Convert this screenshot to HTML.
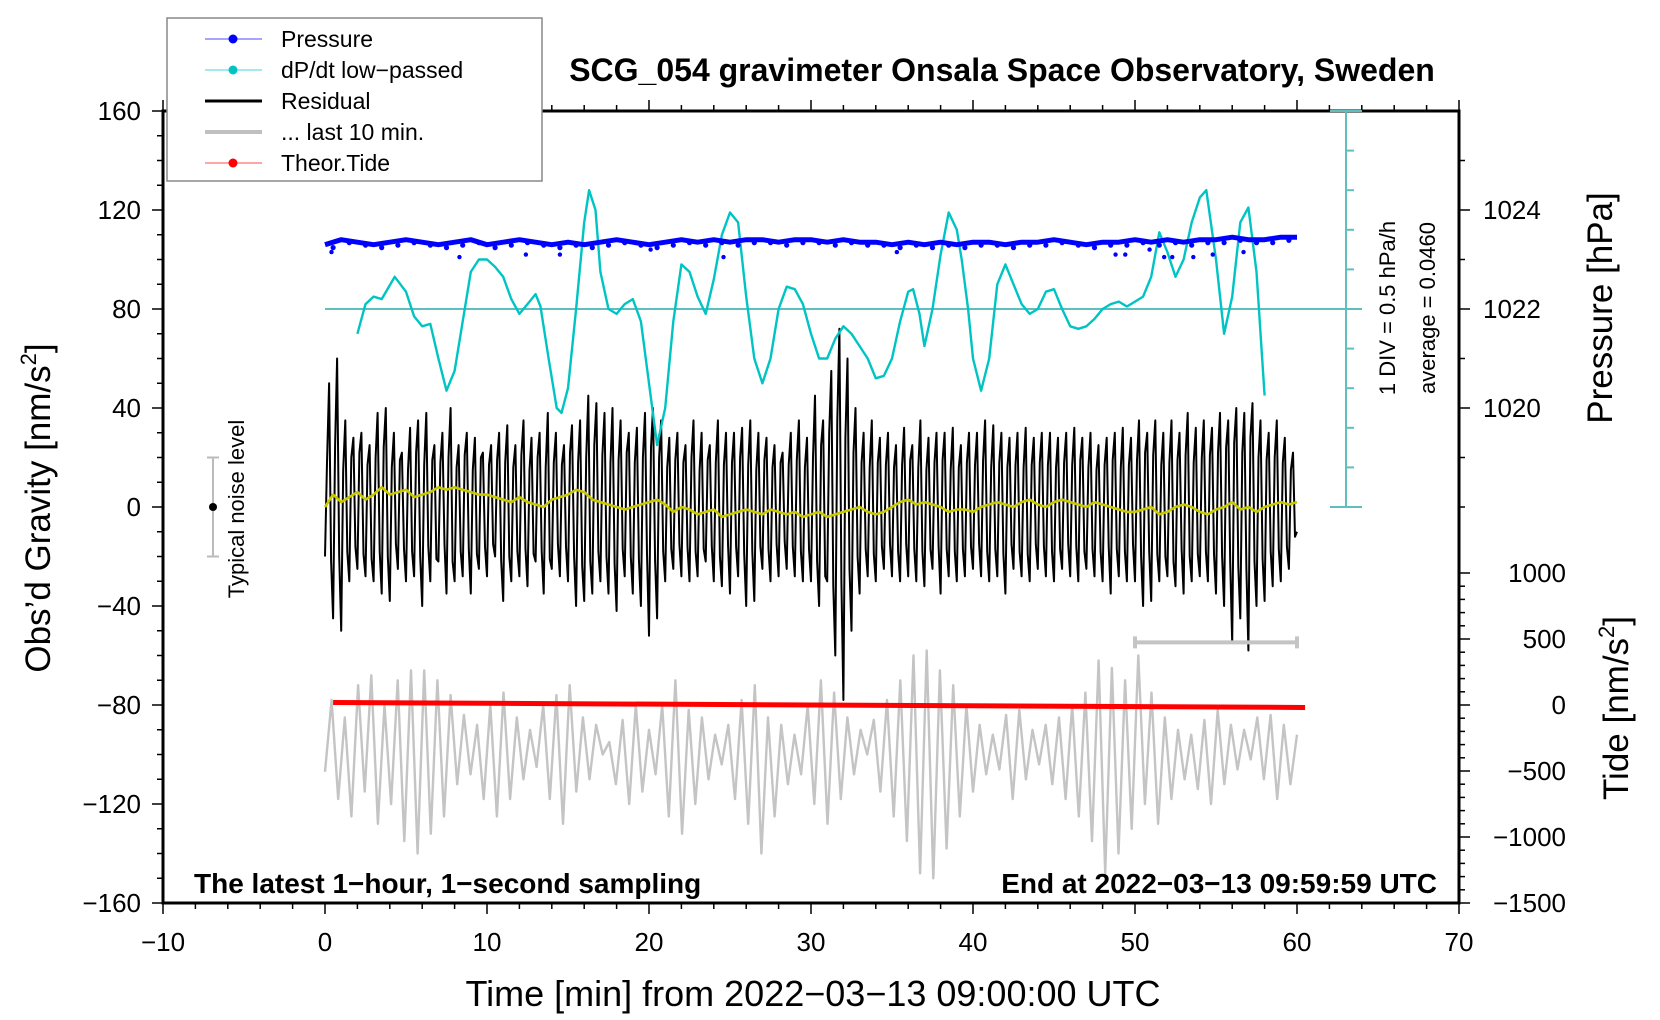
<!DOCTYPE html>
<html><head><meta charset="utf-8"><style>
html,body{margin:0;padding:0;background:#fff}
svg{display:block;font-family:"Liberation Sans",Arial,sans-serif}
</style></head><body>
<svg id="chart" width="1660" height="1020" viewBox="0 0 1660 1020">
<g id="axes"></g>
<g id="marks"></g>
<g id="labels"></g>
</svg>
<script>
// ---- data ----
const xTicks = [-10,0,10,20,30,40,50,60,70];
const yTicks = [160,120,80,40,0,-40,-80,-120,-160];
const pressureTicks = [1020,1022,1024];
const tideTicks = [1000,500,0,-500,-1000,-1500];
const residualValues = [
-20,50,-45,60,-50,35,-30,28,-25,30,-28,25,-30,38,-35,40,-38,30,-25,22,
-30,32,-28,35,-40,38,-30,25,-22,30,-35,40,-30,25,-28,30,-35,28,-25,22,
-28,25,-20,30,-38,33,-30,25,-28,35,-32,28,-22,30,-35,38,-25,30,-28,25,
-30,33,-40,35,-38,45,-35,42,-30,38,-35,40,-42,35,-28,30,-35,32,-40,38,
-52,40,-45,35,-30,28,-25,30,-28,25,-30,35,-28,30,-22,25,-30,35,-32,30,
-35,30,-28,32,-40,35,-38,30,-25,28,-30,25,-28,22,-25,30,-28,35,-30,28,
-30,45,-40,35,-30,55,-60,72,-78,60,-50,40,-35,30,-28,35,-30,28,-25,30,
-28,25,-30,32,-28,25,-30,35,-32,28,-25,30,-35,30,-28,32,-30,25,-28,30,
-25,30,-28,35,-30,33,-28,30,-35,28,-25,30,-28,32,-30,28,-25,30,-28,30,
-30,28,-25,30,-28,32,-30,28,-25,30,-28,25,-30,28,-35,30,-28,32,-30,28,
-30,35,-40,30,-38,35,-30,30,-28,35,-32,30,-35,38,-30,32,-28,35,-30,32,
-35,38,-40,35,-55,40,-45,38,-58,42,-40,35,-38,30,-32,35,-30,28,-25,22,-10];
const residualInner = [
18,-22,25,-20,15,-18,20,-16,22,-19,17,-21,20,-18,24,-20,16,-15,19,-17,
15,-18,22,-20,17,-16,19,-21,18,-15,20,-22,16,-18,21,-17,15,-19,20,-16,
17,-15,19,-22,18,-20,16,-18,21,-17,15,-19,20,-18,16,-21,18,-15,17,-16,
22,-20,18,-24,20,-22,25,-18,21,-20,18,-23,19,-17,22,-20,18,-21,20,-19,
24,-22,20,-18,16,-17,19,-15,18,-16,20,-18,15,-17,19,-16,18,-20,17,-15,
18,-16,20,-19,17,-18,15,-16,19,-17,16,-15,18,-14,17,-16,19,-18,16,-17,
20,-22,25,-28,30,-32,35,-30,28,-25,22,-20,18,-17,16,-19,18,-16,17,-15,
16,-18,17,-15,19,-17,16,-18,15,-17,18,-16,19,-17,15,-18,16,-17,18,-16,
17,-15,19,-18,16,-17,18,-19,16,-15,17,-18,16,-19,17,-15,18,-16,17,-18,
16,-17,18,-15,17,-16,19,-18,16,-17,15,-18,17,-16,19,-17,16,-18,17,-15,
19,-20,22,-18,21,-19,17,-20,18,-22,19,-17,21,-20,18,-19,20,-18,21,-19,
22,-20,24,-22,26,-24,22,-25,28,-22,20,-21,19,-18,20,-17,18,-16,15,-12];
const smoothValues = [
0,5,2,4,6,3,5,8,5,6,7,4,5,6,8,7,8,7,6,5,
5,4,3,2,4,2,1,0,3,4,5,7,6,3,2,1,0,-1,0,1,
2,3,1,-2,0,-1,-3,-2,-1,-4,-3,-2,-1,-2,-3,-1,-2,-3,-2,-4,
-3,-2,-4,-3,-2,-1,0,-2,-3,-2,0,2,3,1,2,1,0,-2,-1,-1,
-2,0,1,2,1,0,2,3,1,0,2,3,2,1,0,2,1,0,-1,-2,
-2,-1,0,-3,-2,0,1,0,-2,-3,-1,0,2,-1,0,-2,0,1,2,1,2];
const lastTenValues = [-107,-78,-118,-85,-125,-72,-115,-68,-128,-80,-120,-70,-135,-66,-140,-66,-132,-70,-125,-76,-112,-84,-108,-88,-118,-80,-125,-75,-118,-85,-110,-90,-105,-80,-118,-76,-128,-72,-115,-85,-110,-88,-100,-95,-112,-86,-120,-80,-115,-90,-108,-80,-125,-70,-132,-82,-120,-85,-110,-92,-104,-88,-118,-78,-128,-72,-140,-85,-125,-88,-112,-92,-108,-80,-120,-70,-128,-75,-118,-85,-108,-90,-100,-86,-115,-78,-125,-70,-135,-60,-148,-58,-150,-66,-138,-72,-125,-80,-115,-88,-108,-92,-106,-84,-118,-82,-110,-90,-104,-88,-112,-85,-118,-80,-125,-75,-135,-62,-148,-65,-140,-70,-130,-60,-120,-75,-128,-85,-118,-90,-110,-92,-114,-86,-120,-82,-112,-88,-106,-90,-102,-85,-110,-84,-118,-88,-112,-92];
const dpdtTimes = [2,2.5,3,3.5,4.3,5,5.5,6,6.5,7,7.5,8,8.5,9,9.5,10,10.5,11,11.5,12,12.5,13,13.3,13.8,14.3,14.6,15,15.5,16,16.3,16.7,17,17.5,18,18.5,19,19.5,20,20.5,21,21.5,22,22.5,23,23.5,24,24.5,25,25.5,26,26.5,27,27.5,28,28.5,29,29.5,30,30.5,31,31.5,32,32.5,33,33.5,34,34.5,35,35.5,36,36.3,36.7,37,37.5,38,38.5,39,39.3,39.7,40,40.5,41,41.5,42,42.5,43,43.5,44,44.5,45,45.5,46,46.5,47,47.5,48,48.5,49,49.5,50,50.5,51,51.5,52,52.5,53,53.5,54,54.4,55,55.5,56,56.5,57,57.5,58];
const dpdtValues = [70,82,85,84,93,87,77,73,74,60,47,55,75,95,100,100,97,93,84,78,82,86,81,60,40,38,48,80,115,128,120,95,80,78,82,84,75,50,25,40,75,98,95,85,78,92,110,119,115,85,60,50,60,80,89,88,82,70,60,60,68,73,70,65,60,52,53,60,75,87,88,78,65,80,102,119,112,100,80,60,47,60,90,98,90,82,78,80,87,88,80,73,72,73,76,80,82,83,81,83,85,93,111,103,93,100,115,125,128,100,70,85,115,121,95,45];
const pressureValues = [1023.3,1023.4,1023.35,1023.3,1023.35,1023.4,1023.35,1023.3,1023.35,1023.4,1023.3,1023.35,1023.4,1023.35,1023.3,1023.35,1023.3,1023.35,1023.4,1023.35,1023.3,1023.35,1023.4,1023.35,1023.4,1023.35,1023.4,1023.4,1023.35,1023.4,1023.4,1023.35,1023.4,1023.35,1023.35,1023.3,1023.35,1023.3,1023.35,1023.3,1023.35,1023.35,1023.3,1023.35,1023.35,1023.4,1023.35,1023.3,1023.35,1023.35,1023.4,1023.35,1023.4,1023.35,1023.4,1023.4,1023.45,1023.4,1023.4,1023.45,1023.45];
const pressureOutlierTimes = [0.4,8.3,12.4,14.5,20.1,24.6,35.3,48.8,49.4,50.9,51.8,52.3,53.6,54.8,56.7];
const pressureOutlierValues = [1023.15,1023.05,1023.1,1023.1,1023.2,1023.05,1023.15,1023.1,1023.1,1023.2,1023.05,1023.05,1023.05,1023.1,1023.15];
const tideStart = -79, tideEnd = -81;
const noiseLevel = 20;

// ---- scales ----
const L=163,R=1459,T=111,B=903;
const X=t=>L+(t+10)*(R-L)/80;
const Y=g=>T+(160-g)*(B-T)/320;
const P=p=>Y(80+(p-1022)*20);
const TD=v=>Y(-80+v*80/1500);
const NS='http://www.w3.org/2000/svg';
function mk(parent,tag,attrs,text){const e=document.createElementNS(NS,tag);for(const k in attrs)e.setAttribute(k,attrs[k]);if(text!==undefined)e.textContent=text;document.getElementById(parent).appendChild(e);return e;}

// ---- axes ----
let e;
e=mk('axes','rect',{x:L,y:T,width:R-L,height:B-T,fill:'none',stroke:'#000','stroke-width':3});


for(let t=-10;t<=70;t+=2){const maj=t%10===0;
 e=mk('axes','line',{x1:X(t),x2:X(t),y1:B,y2:B+(maj?11:6),stroke:'#000','stroke-width':1.5});
 
 
 e=mk('axes','line',{x1:X(t),x2:X(t),y1:T,y2:T-(maj?11:6),stroke:'#000','stroke-width':1.5});
 
 }
xTicks.forEach(t=>{e=mk('labels','text',{x:X(t),y:951,'font-size':26,'text-anchor':'middle'},String(t).replace('-','\u2212'));
 
 });
for(let g=-160;g<=160;g+=10){const maj=g%40===0;
 e=mk('axes','line',{x1:L,x2:L-(maj?11:6),y1:Y(g),y2:Y(g),stroke:'#000','stroke-width':1.5});
 
 }
yTicks.forEach(g=>{e=mk('labels','text',{x:141,y:Y(g)+9,'font-size':26,'text-anchor':'end'},String(g).replace('-','\u2212'));
 
 });
for(let p=1018;p<=1025;p+=1){const maj=p%2===0&&p>=1020;
 e=mk('axes','line',{x1:R,x2:R+(maj?11:6),y1:P(p),y2:P(p),stroke:'#000','stroke-width':1.5});
 
 }
pressureTicks.forEach(p=>{e=mk('labels','text',{x:1483,y:P(p)+9,'font-size':26},String(p));
 
 });
for(let v=-1500;v<=1000;v+=100){const maj=v%500===0;
 e=mk('axes','line',{x1:R,x2:R+(maj?11:6),y1:TD(v),y2:TD(v),stroke:'#000','stroke-width':1.5});
 
 }
tideTicks.forEach(v=>{e=mk('labels','text',{x:1566,y:TD(v)+9,'font-size':26,'text-anchor':'end'},String(v).replace('-','\u2212'));
 
 });
const cx=1346;
e=mk('axes','line',{x1:cx,x2:cx,y1:Y(160),y2:Y(0),stroke:'#5fbfbf','stroke-width':2});


for(let g=0;g<=160;g+=16){const full=(g===0||g===160);
 e=mk('axes','line',{x1:full?cx-16:cx,x2:cx+(full?16:8),y1:Y(g),y2:Y(g),stroke:'#5fbfbf','stroke-width':2});
 
 }
e=mk('axes','line',{x1:X(0),x2:1362,y1:Y(80),y2:Y(80),stroke:'#5fbfbf','stroke-width':2});



// ---- marks ----
function pl(pts,stroke,w){e=mk('marks','polyline',{points:pts.map(p=>p[0].toFixed(1)+','+p[1].toFixed(1)).join(' '),fill:'none',stroke:stroke,'stroke-width':w,'stroke-linejoin':'round'});return e;}
e=pl(lastTenValues.map((v,i)=>[X(i*60/(lastTenValues.length-1)),Y(v)]),'#c4c4c4',2.4);


const resPts=[];
residualValues.forEach((v,i)=>{resPts.push([X(i*0.25),Y(v)]);if(i<residualInner.length)resPts.push([X(i*0.25+0.125),Y(residualInner[i])]);});
e=pl(resPts,'#000',2);


e=pl(smoothValues.map((v,i)=>[X(i*0.5),Y(v)]),'#c8c800',2.6);


e=pl(dpdtValues.map((v,i)=>[X(dpdtTimes[i]),Y(v)]),'#00c4c4',2.4);


e=pl(pressureValues.map((v,i)=>[X(i),P(v)]),'#0000ff',5);


pressureValues.forEach((v,i)=>{if(i<60){e=mk('marks','circle',{cx:X(i+0.5),cy:P(v)+3,r:2.6,fill:'#0000ff'});
 
 }});
pressureOutlierTimes.forEach((t,i)=>{e=mk('marks','circle',{cx:X(t),cy:P(pressureOutlierValues[i]),r:2.2,fill:'#0000ff'});
 
 });
e=mk('marks','line',{x1:X(0.5),x2:X(60.5),y1:Y(tideStart),y2:Y(tideEnd),stroke:'#ff0000','stroke-width':5});


const gy=Y(-54.7);
e=mk('marks','path',{d:`M${X(50)},${gy}H${X(60)}M${X(50)},${gy-6}V${gy+6}M${X(60)},${gy-6}V${gy+6}`,stroke:'#c4c4c4','stroke-width':4,fill:'none'});


const nx=213;
e=mk('marks','path',{d:`M${nx},${Y(noiseLevel)}V${Y(-noiseLevel)}M${nx-6},${Y(noiseLevel)}H${nx+6}M${nx-6},${Y(-noiseLevel)}H${nx+6}`,stroke:'#bbb','stroke-width':2,fill:'none'});


e=mk('marks','circle',{cx:nx,cy:Y(0),r:4,fill:'#000'});



// ---- labels ----
function tx(x,y,s,attrs){const a=Object.assign({x:x,y:y},attrs);e=mk('labels','text',a,s);return e;}
e=tx(1002,81,'SCG_054 gravimeter Onsala Space Observatory, Sweden',{'font-size':32,'font-weight':'bold','text-anchor':'middle'});


e=tx(813,1006,'Time [min] from 2022\u221203\u221213 09:00:00 UTC',{'font-size':36,'text-anchor':'middle'});


e=mk('labels','text',{x:0,y:0,'font-size':35,'text-anchor':'middle',transform:'translate(50,508) rotate(-90)'});
e.innerHTML='Obs\u2019d Gravity [nm/s<tspan font-size="22" dy="-14">2</tspan><tspan dy="14">]</tspan>';


e=mk('labels','text',{x:0,y:0,'font-size':35,'text-anchor':'middle',transform:'translate(1612,308) rotate(-90)'},'Pressure [hPa]');


e=mk('labels','text',{x:0,y:0,'font-size':35,'text-anchor':'middle',transform:'translate(1628,708) rotate(-90)'});
e.innerHTML='Tide [nm/s<tspan font-size="22" dy="-14">2</tspan><tspan dy="14">]</tspan>';


e=mk('labels','text',{x:0,y:0,'font-size':22,'text-anchor':'middle',transform:'translate(1395,308) rotate(-90)'},'1 DIV = 0.5 hPa/h');


e=mk('labels','text',{x:0,y:0,'font-size':22,'text-anchor':'middle',transform:'translate(1435,308) rotate(-90)'},'average = 0.0460');


e=mk('labels','text',{x:0,y:0,'font-size':22,'text-anchor':'middle',transform:'translate(244,509) rotate(-90)'},'Typical noise level');


e=tx(194,893,'The latest 1\u2212hour, 1\u2212second sampling',{'font-size':28,'font-weight':'bold'});


e=tx(1437,893,'End at 2022\u221203\u221213 09:59:59 UTC',{'font-size':28,'font-weight':'bold','text-anchor':'end'});



e=mk('labels','rect',{x:167,y:18,width:375,height:163,fill:'#fff',stroke:'#888','stroke-width':1.5});


const legendNames=['Pressure','dP/dt low\u2212passed','Residual','... last 10 min.','Theor.Tide'];
const legendColors=['#0000ff','#00c4c4','#000','#c0c0c0','#ff0000'];
legendNames.forEach((n,i)=>{const y=39+i*31;const dot=(i===0||i===1||i===4);
 e=mk('labels','line',{x1:205,x2:262,y1:y,y2:y,stroke:legendColors[i],'stroke-width':dot?1:(i===3?4:3),opacity:dot?0.7:1});
 
 
 if(dot){e=mk('labels','circle',{cx:233,cy:y,r:4.5,fill:legendColors[i]});
  
  }
 e=tx(281,y+8,n,{'font-size':23});
 
 });
</script>
</body></html>
